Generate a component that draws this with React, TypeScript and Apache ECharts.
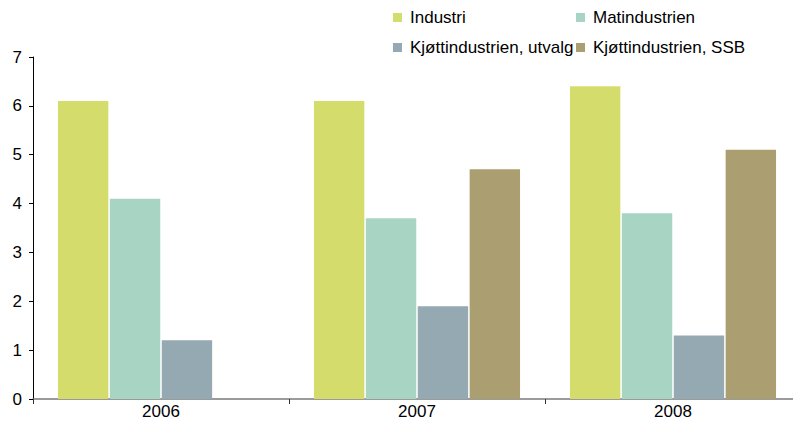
import React, { useEffect, useRef } from "react";
import * as echarts from "echarts";

const categories = ["2006", "2007", "2008"];
const seriesNames = ["Industri", "Matindustrien", "Kjøttindustrien, utvalg", "Kjøttindustrien, SSB"];
const industri = [6.1, 6.1, 6.4];
const matindustrien = [4.1, 3.7, 3.8];
const kjottUtvalg = [1.2, 1.9, 1.3];
const kjottSSB: (number | null)[] = [null, 4.7, 5.1];
const colors = ["#d4dc6c", "#a8d4c4", "#95a9b3", "#ab9f71"];

export default function App() {
  const ref = useRef<HTMLDivElement>(null);
  useEffect(() => {
    if (!ref.current) return;
    document.body.style.overflow = "hidden";
    const chart = echarts.init(ref.current, undefined, { renderer: "svg" });
    const font = "'Liberation Sans', Arial, sans-serif";
    const values = [industri, matindustrien, kjottUtvalg, kjottSSB];
    const legendPos = [
      { left: 393, top: 9 },
      { left: 576, top: 9 },
      { left: 393, top: 39 },
      { left: 576, top: 39 },
    ];
    chart.setOption({
      animation: false,
      color: colors,
      textStyle: { fontFamily: font },
      legend: seriesNames.map((n, i) => ({
        data: [n],
        left: legendPos[i].left,
        top: legendPos[i].top,
        padding: 0,
        icon: "rect",
        itemWidth: 9,
        itemHeight: 9,
        selectedMode: false,
        textStyle: { fontSize: 17, color: "#000", fontFamily: font, padding: [0, 0, 0, 3] },
      })),
      grid: { left: 33, right: 0, top: 57, bottom: 32, containLabel: false },
      xAxis: {
        type: "category",
        data: categories,
        axisLine: { show: true, lineStyle: { color: "#7a7a7a", width: 1.5 } },
        axisTick: { show: true, length: 5, lineStyle: { color: "#333" } },
        axisLabel: { fontSize: 17, color: "#000", margin: 4, fontFamily: font },
      },
      yAxis: {
        type: "value",
        min: 0,
        max: 7,
        interval: 1,
        axisLine: { show: true, lineStyle: { color: "#000", width: 1 } },
        axisTick: { show: true, length: 4, lineStyle: { color: "#000" } },
        axisLabel: { fontSize: 17, color: "#000", margin: 11, fontFamily: font },
        splitLine: { show: false },
      },
      series: seriesNames.map((n, i) => ({
        name: n,
        type: "bar",
        data: values[i],
        barCategoryGap: "19.5%",
        barGap: "3%",
        itemStyle: { color: colors[i] },
      })),
    });
    return () => chart.dispose();
  }, []);
  return (
    <div
      ref={ref}
      style={{ position: "fixed", left: 0, top: 0, width: 801, height: 431, background: "#fff" }}
    />
  );
}
